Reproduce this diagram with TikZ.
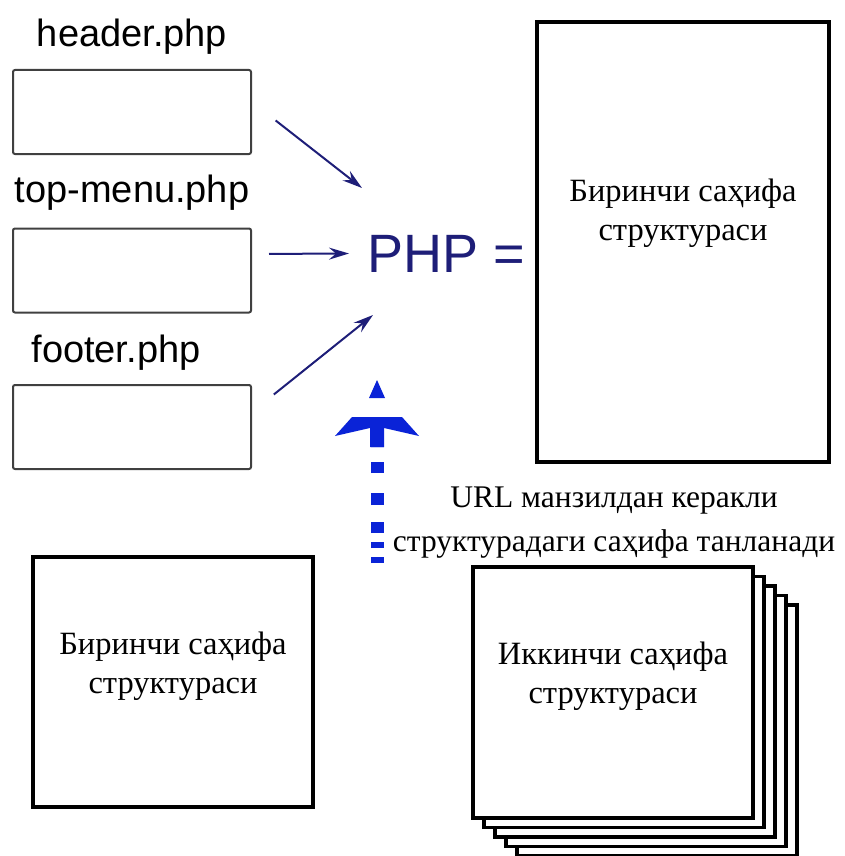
\documentclass[tikz,border=0pt]{standalone}
\usepackage{fontspec}
\setmainfont{Liberation Serif}
\newfontfamily\arialfont{Liberation Sans}
\usepackage{tikz}
\usetikzlibrary{arrows.meta}
\definecolor{phpnavy}{RGB}{30,30,120}
\definecolor{selblue}{RGB}{10,35,215}

\begin{document}
\begin{tikzpicture}[x=1pt,y=1pt,yscale=-1,xscale=1,
    filebox/.style={draw=black!75,line width=2pt,rounded corners=2pt,minimum width=238pt,minimum height=84pt,inner sep=0pt},
    filename/.style={font=\arialfont\fontsize{38}{40}\selectfont,inner sep=0pt,anchor=base},
    pagebox/.style={draw,line width=3.5pt,fill=white,inner sep=0pt},
    pagetext/.style={align=center,inner sep=0pt,font=\fontsize{32.5}{39}\selectfont},
    navyarrow/.style={draw=phpnavy,line width=2pt,-{Stealth[length=20pt,width=12pt,inset=7pt]}}]
            \useasboundingbox (0,0) rectangle (844,856);
            % php include files
            \node [filebox] (hdr) at (132,112) {};
            \node [filebox] (menu) at (132,270.5) {};
            \node [filebox] (ftr) at (132,427) {};
            \node [filename] (hdrname) at (132,47) {header.php};
            \node [filename] (menuname) at (132,202) {top-menu.php};
            \node [filename] (ftrname) at (116,362) {footer.php};
            \node [anchor=base,inner sep=0pt,text=phpnavy,font=\arialfont\fontsize{54}{56}\selectfont] (php) at (446,272) {PHP =};
            \coordinate (hdrtip) at (362,188);
            \coordinate (ftrtip) at (373,315);
            \draw [navyarrow,shorten <=30pt] ([yshift=-10pt]hdr.east) -- (hdrtip);
            \draw [navyarrow,shorten <=17pt,shorten >=18pt] ([yshift=-16.5pt]menu.east) -- (php.west);
            \draw [navyarrow,shorten <=28pt] ([yshift=-15pt]ftr.east) -- (ftrtip);
            % result page
            \node [pagebox,minimum width=292pt,minimum height=440pt] (first) at (683,242) {};
            \node [pagetext] (firsttxt) at ([yshift=-29pt]first.center) {Биринчи саҳифа\\структураси};
            % page structures
            \node [pagebox,minimum width=280pt,minimum height=250pt] (firstsrc) at (173,682) {};
            \node [pagetext] (firstsrctxt) at ([yshift=-16pt]firstsrc.center) {Биринчи саҳифа\\структураси};
            \foreach \k in {4,3,2,1}
                \draw [line width=3.5pt,fill=white] (473+11*\k,567+9.5*\k) rectangle ++(280,251);
            \node [pagebox,minimum width=280pt,minimum height=251pt] (second) at (613,692.5) {};
            \node [pagetext] (secondtxt) at ([yshift=-16pt]second.center) {Иккинчи саҳифа\\структураси};
            \node [pagetext,font=\fontsize{31.5}{44}\selectfont] (urlnote) at (614,523) {URL манзилдан керакли\\структурадаги саҳифа танланади};
            % selection arrow
            \coordinate (selfoot) at (377,563);
            \coordinate (selneck) at (377,447);
            \coordinate (seltip) at (377,380);
            \draw [selblue,line width=13pt,dash pattern=on 6pt off 9pt on 6pt off 9pt on 11pt off 17pt on 12pt off 20pt on 11pt off 15pt] (selfoot) -- (selneck);
            \begin{scope}[shift={(seltip)}]
                \fill [selblue] (0,0) -- (8,18) -- (-8,18) -- cycle;
                \fill [selblue] (-42,56) -- (-25,37) -- (25,37) -- (42,56) -- (7,48) -- (7,67) -- (-7,67) -- (-7,48) -- cycle;
            \end{scope}
          \end{tikzpicture}
\end{document}
